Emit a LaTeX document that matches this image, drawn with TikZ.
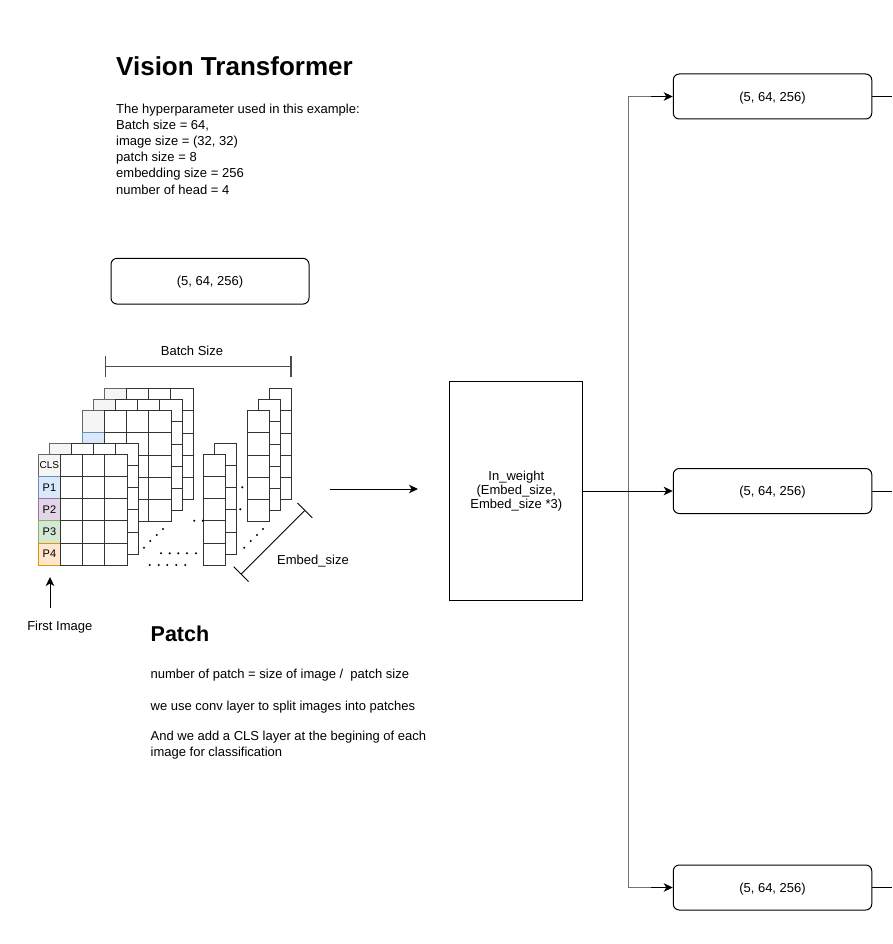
\documentclass[tikz,border=0pt]{standalone}
\usepackage{fontspec}
\setmainfont{Liberation Sans}
\usetikzlibrary{arrows.meta,calc}
\definecolor{clsfill}{HTML}{F5F5F5}\definecolor{clsdraw}{HTML}{666666}
\definecolor{pafill}{HTML}{DAE8FC}\definecolor{padraw}{HTML}{6C8EBF}
\definecolor{pbfill}{HTML}{E1D5E7}\definecolor{pbdraw}{HTML}{9673A6}
\definecolor{pcfill}{HTML}{D5E8D4}\definecolor{pcdraw}{HTML}{82B366}
\definecolor{pdfill}{HTML}{FFE6CC}\definecolor{pddraw}{HTML}{D79B00}
\newcommand{\cellw}{22.2}
\newcommand{\imglayer}[2]{%
  \begin{scope}[shift={(#1,#2)}]
    \draw[colcell, fill=clsfill, draw=clsdraw] (0,0) rectangle ++(\cellw,\cellw);
    \draw[colcell, fill=pafill, draw=padraw] (0,\cellw) rectangle ++(\cellw,\cellw);
    \draw[colcell, fill=pbfill, draw=pbdraw] (0,2*\cellw) rectangle ++(\cellw,\cellw);
    \draw[colcell, fill=pcfill, draw=pcdraw] (0,3*\cellw) rectangle ++(\cellw,\cellw);
    \draw[colcell, fill=pdfill, draw=pddraw] (0,4*\cellw) rectangle ++(\cellw,\cellw);
    \foreach \cc in {1,2,3}{\foreach \rr in {0,...,4}{
      \draw[gridcell] (\cc*\cellw,\rr*\cellw) rectangle ++(\cellw,\cellw);}}
  \end{scope}}
\newcommand{\collayer}[2]{%
  \begin{scope}[shift={(#1,#2)}]
    \foreach \rr in {0,...,4}{
      \draw[gridcell] (0,\rr*\cellw) rectangle ++(\cellw,\cellw);}
  \end{scope}}
\begin{document}
\begin{tikzpicture}[x=1pt,y=-1pt,
  txt/.style={font=\fontsize{13}{16}\selectfont, inner sep=0pt},
  body/.style={txt, anchor=base west},
  gridcell/.style={draw=black!80, fill=white, line width=1.15pt},
  colcell/.style={line width=1.15pt},
  lbl/.style={inner sep=0pt, font=\fontsize{11}{13}\selectfont},
  rbox/.style={draw, rounded corners=6pt, line width=1pt, minimum width=198.5pt, minimum height=45pt, txt, text height=9.5pt, text depth=0pt},
  ln/.style={line width=1pt},
  arr/.style={ln, -{Stealth[length=9pt,width=8.5pt,inset=2.5pt]}},
  dim/.style={{Bar[width=21pt]}-{Bar[width=21pt]}},
  dot/.style={fill=black}
]
\useasboundingbox (0,0) rectangle (892,944);

% title and hyperparameters
\node[body, font=\fontsize{26}{30}\selectfont\bfseries] (title) at (116,76) {Vision Transformer};
\node[body] (h1) at (116,114) {The hyperparameter used in this example:};
\node[body] (h2) at (116,130) {Batch size = 64,};
\node[body] (h3) at (116,146) {image size = (32, 32)};
\node[body] (h4) at (116,162) {patch size = 8};
\node[body] (h5) at (116,178) {embedding size = 256};
\node[body] (h6) at (116,194) {number of head = 4};

\node[rbox, minimum width=198pt, minimum height=45.7pt] (b0) at (210,281.2) {(5, 64, 256)};

% batch size dimension
\coordinate (bsl) at (105,366.7);
\coordinate (bsr) at (291.7,366.7);
\draw[dim, draw=black!70, line width=1.3pt] (bsl) -- (bsr);
\node[txt, anchor=base] (bslbl) at (192,355) {Batch Size};

% grids, back to front
\imglayer{104.3}{388.7}
\imglayer{93.3}{399.7}
\imglayer{82.3}{410.7}
\imglayer{49.3}{443.3}
\imglayer{38.3}{454.3}
\node[lbl, font=\fontsize{10}{12}\selectfont] (cls) at (49.4,465.4) {CLS};
\node[lbl] (p1) at (49.4,487.6) {P1};
\node[lbl] (p2) at (49.4,509.8) {P2};
\node[lbl] (p3) at (49.4,532.0) {P3};
\node[lbl] (p4) at (49.4,554.2) {P4};

\collayer{214.3}{443.3}
\collayer{203.3}{454.3}
\collayer{269.3}{388.7}
\collayer{258.3}{399.7}
\collayer{247.3}{410.7}

% dots
\foreach \px/\py in {194.3/520.7, 202.7/520.7, 242.3/487.3, 240.3/509.3,
  144/547.7, 150.3/541, 156.7/535, 163/529,
  161/553.3, 169.7/553.3, 178.3/553.3, 187/553.3, 196/553.3,
  149.7/565, 158.7/565, 167.3/565, 176.3/565, 185.3/565,
  244.3/547.7, 250.7/541, 257/535, 263/529}
  \fill[dot] (\px,\py) circle (1.15pt);

% embed size dimension
\coordinate (el) at (240.8,574.5);
\coordinate (er) at (305.2,510);
\draw[dim, line width=0.9pt] (el) -- (er);
\node[txt, anchor=base] (ellbl) at (313,564) {Embed\_size};

% first image
\coordinate (fis) at (50,608.3);
\coordinate (fit) at (50,577);
\draw[arr] (fis) -- (fit);
\node[txt, anchor=base] (fi) at (59.8,630) {First Image};

% patch text
\node[body, font=\fontsize{21.5}{25}\selectfont\bfseries] (patch) at (150.5,641) {Patch};
\node[body] (t1) at (150.5,678.3) {number of patch = size of image /\ \ patch size};
\node[body] (t2) at (150.5,710) {we use conv layer to split images into patches};
\node[body] (t3) at (150.5,740.7) {And we add a CLS layer at the begining of each};
\node[body] (t4) at (150.5,756.7) {image for classification};

% main arrow
\coordinate (as) at (330,489);
\coordinate (ae) at (418,489);
\draw[arr] (as) -- (ae);

% in_weight
\node[draw, line width=1pt, minimum width=132.7pt, minimum height=219.7pt, align=center,
  font=\fontsize{13}{14}\selectfont, inner sep=0pt] (w) at (516.3,491)
  {In\_weight\\(Embed\_size,\\Embed\_size *3)};

\node[rbox] (b1) at (772.5,96.5) {(5, 64, 256)};
\node[rbox] (b2) at (772.5,491) {(5, 64, 256)};
\node[rbox] (b3) at (772.5,887.5) {(5, 64, 256)};

\coordinate (j) at (628.3,491);
\draw[arr] (j) |- (b1.west);
\draw[arr] (j) |- (b3.west);
\coordinate (jt) at ($(b1.west)+(-22,0)$);
\coordinate (jb) at ($(b3.west)+(-22,0)$);
\draw[ln, black!55] (jt) -| (j) |- (jb);
\draw[ln] (w.east) -- (j);
\draw[arr] (j) -- (b2.west);

\coordinate (o1) at (892,96.5);
\coordinate (o2) at (892,491);
\coordinate (o3) at (892,887.5);
\draw[ln] (b1.east) -- (o1);
\draw[ln] (b2.east) -- (o2);
\draw[ln] (b3.east) -- (o3);
\end{tikzpicture}
\end{document}
